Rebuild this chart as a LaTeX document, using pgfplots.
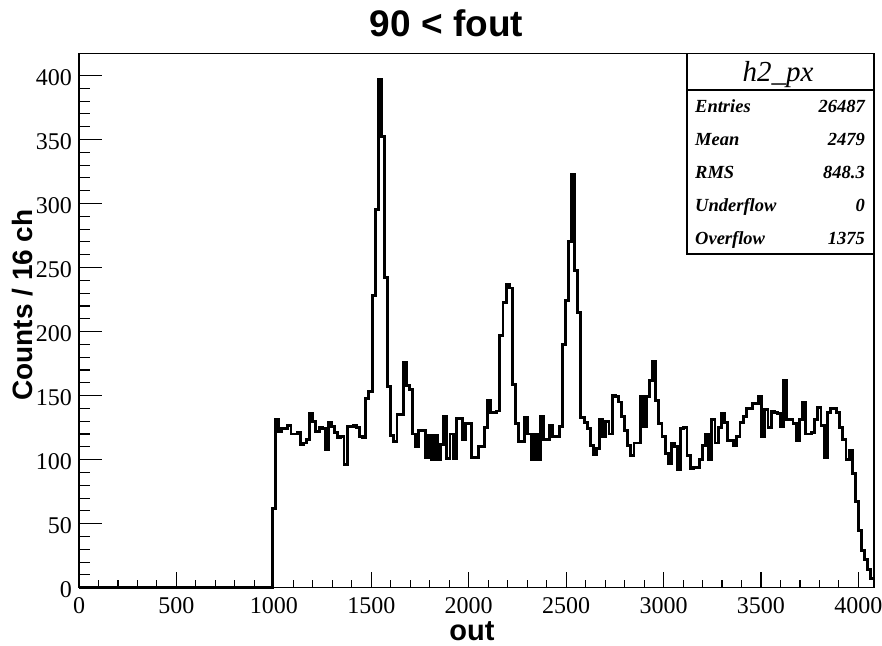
\documentclass[border=0pt]{standalone}
\usepackage{fontspec}
\usepackage{pgfplots}
\usepackage{pgfplotstable}
\pgfplotsset{compat=1.18}
\newfontfamily\lsans{Liberation Sans}
\newfontfamily\lserif{Liberation Serif}
\pgfplotstableread{
x y
0 0
992 62
1008 131
1024 122
1040 124
1056 124
1072 127
1088 120
1104 120
1120 121
1136 112
1152 113
1168 116
1184 136
1200 130
1216 122
1232 125
1248 124
1264 108
1280 129
1296 126
1312 121
1328 117
1344 118
1360 96
1376 126
1392 126
1408 127
1424 125
1440 118
1456 117
1472 148
1488 153
1504 228
1520 295
1536 397
1552 352
1568 242
1584 157
1600 119
1616 114
1632 135
1648 135
1664 176
1680 158
1696 155
1712 120
1728 110
1744 123
1760 123
1776 102
1792 119
1808 100
1824 119
1840 100
1856 112
1872 134
1888 101
1904 120
1920 101
1936 132
1952 132
1968 116
1984 128
2000 128
2016 102
2032 102
2048 110
2064 110
2080 125
2096 146
2112 137
2128 137
2144 138
2160 197
2176 223
2192 237
2208 234
2224 159
2240 128
2256 114
2272 114
2288 133
2304 120
2320 100
2336 120
2352 100
2368 134
2384 116
2400 116
2416 127
2432 118
2448 118
2464 126
2480 190
2496 224
2512 270
2528 323
2544 248
2560 215
2576 133
2592 129
2608 124
2624 111
2640 104
2656 109
2672 131
2688 118
2704 130
2720 120
2736 150
2752 149
2768 145
2784 134
2800 123
2816 111
2832 103
2848 113
2864 113
2880 149
2896 126
2912 149
2928 162
2944 177
2960 146
2976 128
2992 118
3008 105
3024 97
3040 113
3056 110
3072 92
3088 124
3104 125
3120 103
3136 93
3152 94
3168 94
3184 100
3200 111
3216 120
3232 100
3248 131
3264 113
3280 125
3296 136
3312 129
3328 115
3344 115
3360 111
3376 118
3392 129
3408 134
3424 140
3440 140
3456 144
3472 144
3488 149
3504 118
3520 139
3536 125
3552 138
3568 137
3584 136
3600 126
3616 162
3632 131
3648 131
3664 128
3680 115
3696 131
3712 145
3728 120
3744 120
3760 121
3776 131
3792 141
3808 127
3824 102
3840 137
3856 140
3872 140
3888 137
3904 125
3920 116
3936 100
3952 107
3968 89
3984 67
4000 45
4016 29
4032 22
4048 14
4064 7
4080 7
}\histdata
\begin{document}
\begin{tikzpicture}
\path[use as bounding box] (0,0) rectangle (882bp,646bp);
% main axis: frame, x ticks, histogram
\begin{axis}[
  at={(79bp,58.3bp)}, anchor=south west,
  scale only axis, width=795bp, height=534bp,
  xmin=0, xmax=4080, ymin=0, ymax=417,
  axis line style={line width=1.1bp},
  tick align=inside, xtick pos=bottom,
  xtick={0,500,1000,1500,2000,2500,3000,3500,4000},
  xticklabels={0,500,1000,1500,2000,2500,3000,3500,4000},
  minor x tick num=4,
  ytick=\empty,
  major tick length=16bp, minor tick length=8bp,
  every tick/.style={black, line width=1.1bp},
  xticklabel style={font=\lserif\fontsize{24bp}{28bp}\selectfont, inner sep=0pt, yshift=-10bp},
  clip=false,
]
\addplot[const plot mark left, black, line width=2.9bp, line join=miter] table[x=x,y=y] {\histdata};
\end{axis}
% second axis: y ticks only
\begin{axis}[
  at={(79bp,58.3bp)}, anchor=south west,
  scale only axis, width=795bp, height=534bp,
  xmin=0, xmax=4080, ymin=0, ymax=417,
  axis line style={draw=none},
  xtick=\empty,
  tick align=inside, ytick pos=left,
  ytick={0,50,100,150,200,250,300,350,400},
  yticklabels={0,50,100,150,200,250,300,350,400},
  minor y tick num=4,
  major tick length=22.7bp, minor tick length=11.4bp,
  every tick/.style={black, line width=1.1bp},
  yticklabel style={font=\lserif\fontsize{24bp}{28bp}\selectfont, inner sep=0pt, anchor=east, xshift=-7bp, yshift=-2bp},
]
\end{axis}
% title and axis labels
\node[anchor=base, font=\lsans\bfseries\fontsize{37bp}{40bp}\selectfont] at (446.5bp,609.3bp) {90 < fout};
\node[anchor=base, font=\lsans\bfseries\fontsize{29bp}{32bp}\selectfont] at (472bp,6bp) {out};
\node[anchor=base, rotate=90, font=\lsans\bfseries\fontsize{28bp}{32bp}\selectfont] at (32bp,341bp) {Counts / 16 ch};
% stats box
\draw[line width=1.5bp, fill=white] (687bp,392bp) rectangle (874bp,592.3bp);
\draw[line width=1.5bp] (687bp,556bp) -- (874bp,556bp);
\node[anchor=base, font=\lserif\itshape\fontsize{29bp}{32bp}\selectfont] at (778bp,564.3bp) {h2\_px};
\begin{scope}[every node/.style={font=\lserif\bfseries\itshape\fontsize{18.5bp}{22bp}\selectfont, inner sep=0pt}]
\node[anchor=base west] at (695bp,533.3bp) {Entries};
\node[anchor=base east] at (865bp,533.3bp) {26487};
\node[anchor=base west] at (695bp,500bp) {Mean};
\node[anchor=base east] at (865bp,500bp) {2479};
\node[anchor=base west] at (695bp,467bp) {RMS};
\node[anchor=base east] at (865bp,467bp) {848.3};
\node[anchor=base west] at (695bp,434bp) {Underflow};
\node[anchor=base east] at (865bp,434bp) {0};
\node[anchor=base west] at (695bp,401bp) {Overflow};
\node[anchor=base east] at (865bp,401bp) {1375};
\end{scope}
\end{tikzpicture}
\end{document}
